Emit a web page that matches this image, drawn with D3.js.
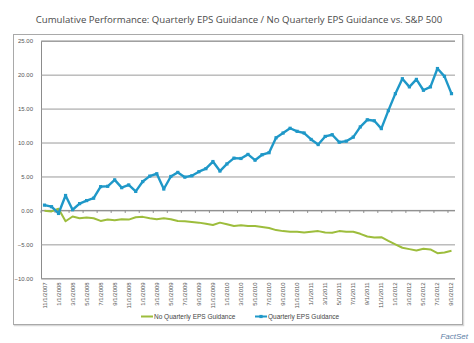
<!DOCTYPE html>
<html>
<head>
<meta charset="utf-8">
<script src="https://cdn.jsdelivr.net/npm/d3@7"></script>
<style>
  body { margin: 0; background: #fff; }
  svg { display: block; }
</style>
</head>
<body>
<div id="wrapper"></div>
<script>

// monthly categories, 11/2007 - 9/2012
const months = [
  "11/1/2007","12/1/2007",
  "1/1/2008","2/1/2008","3/1/2008","4/1/2008","5/1/2008","6/1/2008","7/1/2008","8/1/2008","9/1/2008","10/1/2008","11/1/2008","12/1/2008",
  "1/1/2009","2/1/2009","3/1/2009","4/1/2009","5/1/2009","6/1/2009","7/1/2009","8/1/2009","9/1/2009","10/1/2009","11/1/2009","12/1/2009",
  "1/1/2010","2/1/2010","3/1/2010","4/1/2010","5/1/2010","6/1/2010","7/1/2010","8/1/2010","9/1/2010","10/1/2010","11/1/2010","12/1/2010",
  "1/1/2011","2/1/2011","3/1/2011","4/1/2011","5/1/2011","6/1/2011","7/1/2011","8/1/2011","9/1/2011","10/1/2011","11/1/2011","12/1/2011",
  "1/1/2012","2/1/2012","3/1/2012","4/1/2012","5/1/2012","6/1/2012","7/1/2012","8/1/2012","9/1/2012"
]

const guidance = [
  0.78, 0.55, -0.45, 2.2, 0.1, 1.0, 1.45, 1.8, 3.5, 3.55,
  4.5, 3.35, 3.75, 2.8, 4.25, 5.05, 5.4, 3.15, 5.0, 5.6,
  4.9, 5.1, 5.7, 6.15, 7.2, 5.8, 6.85, 7.7, 7.65, 8.25,
  7.4, 8.2, 8.5, 10.7, 11.4, 12.1, 11.65, 11.4, 10.45, 9.7,
  10.9, 11.15, 10.05, 10.2, 10.8, 12.3, 13.35, 13.2, 12.05, 14.7,
  17.2, 19.4, 18.2, 19.3, 17.7, 18.2, 20.9, 19.75, 17.2
]

const noGuidance = [
  -0.05, -0.15, 0.25, -1.6, -0.9, -1.15, -1.05, -1.15, -1.55, -1.35,
  -1.45, -1.3, -1.35, -1.0, -0.95, -1.15, -1.3, -1.15, -1.3, -1.55,
  -1.6, -1.7, -1.8, -1.95, -2.15, -1.8, -2.05, -2.3, -2.2, -2.3,
  -2.3, -2.45, -2.6, -2.9, -3.05, -3.15, -3.15, -3.25, -3.15, -3.05,
  -3.25, -3.3, -3.05, -3.15, -3.15, -3.45, -3.85, -4.0, -3.95, -4.5,
  -5.0, -5.5, -5.7, -5.9, -5.65, -5.75, -6.3, -6.2, -5.95
]

const yTicks = [-10, -5, 0, 5, 10, 15, 20, 25]

const seriesNames = ["No Quarterly EPS Guidance", "Quarterly EPS Guidance"]

async function drawChart() {

  // 1. Chart dimensions
  let dimensions = {
    width: 474,
    height: 343,
    margin: {
      top: 40.7,
      right: 19,
      bottom: 64.7,
      left: 41,
    },
  }
  dimensions.boundedWidth = dimensions.width
    - dimensions.margin.left
    - dimensions.margin.right
  dimensions.boundedHeight = dimensions.height
    - dimensions.margin.top
    - dimensions.margin.bottom

  const blue = "#1f98c8"
  const green = "#9dbd3c"

  // 2. Draw canvas
  const wrapper = d3.select("#wrapper")
    .append("svg")
      .attr("width", dimensions.width)
      .attr("height", dimensions.height)
      .style("font-family", "'Liberation Sans', Arial, sans-serif")

  wrapper.append("text")
      .attr("x", 239)
      .attr("y", 23)
      .attr("text-anchor", "middle")
      .style("font-family", "'Open Sans', sans-serif")
      .style("font-size", "9.6px")
      .style("fill", "#4a4a4a")
      .text("Cumulative Performance: Quarterly EPS Guidance / No Quarterly EPS Guidance vs. S&P 500")

  // outer chart frame
  wrapper.append("rect")
      .attr("x", 14.5)
      .attr("y", 35.5)
      .attr("width", 449)
      .attr("height", 290)
      .attr("fill", "none")
      .attr("stroke", "#d8d8d8")
      .attr("stroke-width", 1.5)
  wrapper.append("rect")
      .attr("x", 13.5)
      .attr("y", 34.5)
      .attr("width", 449)
      .attr("height", 290)
      .attr("fill", "#fff")
      .attr("stroke", "#a9a9a9")

  const bounds = wrapper.append("g")
      .attr("transform", `translate(${dimensions.margin.left}, ${dimensions.margin.top})`)

  // 3. Scales
  const xScale = d3.scalePoint()
    .domain(months)
    .range([0, dimensions.boundedWidth])
    .padding(0.5)

  const yScale = d3.scaleLinear()
    .domain([-10, 25])
    .range([dimensions.boundedHeight, 0])

  // 4. Gridlines + axes
  const yAxis = d3.axisLeft(yScale)
    .tickValues(yTicks)
    .tickSize(-dimensions.boundedWidth)
    .tickPadding(8)
    .tickFormat(d3.format(".2f"))

  const yAxisGroup = bounds.append("g").call(yAxis)
  yAxisGroup.select(".domain").attr("stroke", "#8c8c8c")
  yAxisGroup.selectAll(".tick line").attr("stroke", "#9a9a9a")
  yAxisGroup.selectAll(".tick text")
      .style("font-size", "6px")
      .style("fill", "#555")

  // category axis sits on the zero line, ticks every other month
  const step = xScale.step()
  const tickMonths = months.filter((d, i) => i % 2 == 0)
  const zeroAxis = bounds.append("g")
      .attr("transform", `translate(0, ${yScale(0)})`)
  zeroAxis.append("line")
      .attr("x1", 0)
      .attr("x2", dimensions.boundedWidth)
      .attr("stroke", "#8c8c8c")
  zeroAxis.selectAll(".cat-tick")
    .data(tickMonths)
    .join("line")
      .attr("class", "cat-tick")
      .attr("x1", d => xScale(d) - step / 2)
      .attr("x2", d => xScale(d) - step / 2)
      .attr("y1", 0)
      .attr("y2", 2.5)
      .attr("stroke", "#8c8c8c")

  // month labels hang below the plot, rotated
  bounds.append("g")
    .selectAll("text")
    .data(tickMonths)
    .join("text")
      .attr("transform", d => `translate(${xScale(d) + 2}, ${dimensions.boundedHeight + 4}) rotate(-90)`)
      .attr("text-anchor", "end")
      .style("font-size", "6px")
      .style("fill", "#555")
      .text(d => d)

  // 5. Lines
  const lineGen = values => d3.line()
    .x((d, i) => xScale(months[i]))
    .y(d => yScale(d))(values)

  bounds.append("path")
      .attr("d", lineGen(noGuidance))
      .attr("fill", "none")
      .attr("stroke", green)
      .attr("stroke-width", 2)
      .attr("stroke-linejoin", "round")

  bounds.append("path")
      .attr("d", lineGen(guidance))
      .attr("fill", "none")
      .attr("stroke", blue)
      .attr("stroke-width", 2.4)
      .attr("stroke-linejoin", "round")

  bounds.selectAll(".marker")
    .data(guidance)
    .join("rect")
      .attr("class", "marker")
      .attr("x", (d, i) => xScale(months[i]) - 1.6)
      .attr("y", d => yScale(d) - 1.6)
      .attr("width", 3.2)
      .attr("height", 3.2)
      .attr("fill", blue)

  // 6. Legend
  const legend = wrapper.append("g")
      .attr("transform", "translate(0, 316.5)")
      .style("font-size", "6.5px")
      .style("fill", "#444")

  legend.append("line")
      .attr("x1", 141).attr("x2", 153)
      .attr("stroke", green).attr("stroke-width", 2)
  legend.append("text")
      .attr("x", 154).attr("y", 2.3)
      .text(seriesNames[0])

  legend.append("line")
      .attr("x1", 255).attr("x2", 267)
      .attr("stroke", blue).attr("stroke-width", 2)
  legend.append("rect")
      .attr("x", 259.4).attr("y", -1.6)
      .attr("width", 3.2).attr("height", 3.2)
      .attr("fill", blue)
  legend.append("text")
      .attr("x", 268).attr("y", 2.3)
      .text(seriesNames[1])

  // source note
  wrapper.append("text")
      .attr("x", 468)
      .attr("y", 339)
      .attr("text-anchor", "end")
      .style("font-size", "8px")
      .style("font-style", "italic")
      .style("fill", "#5d7ea6")
      .text("FactSet")
}

drawChart()
</script>
</body>
</html>
